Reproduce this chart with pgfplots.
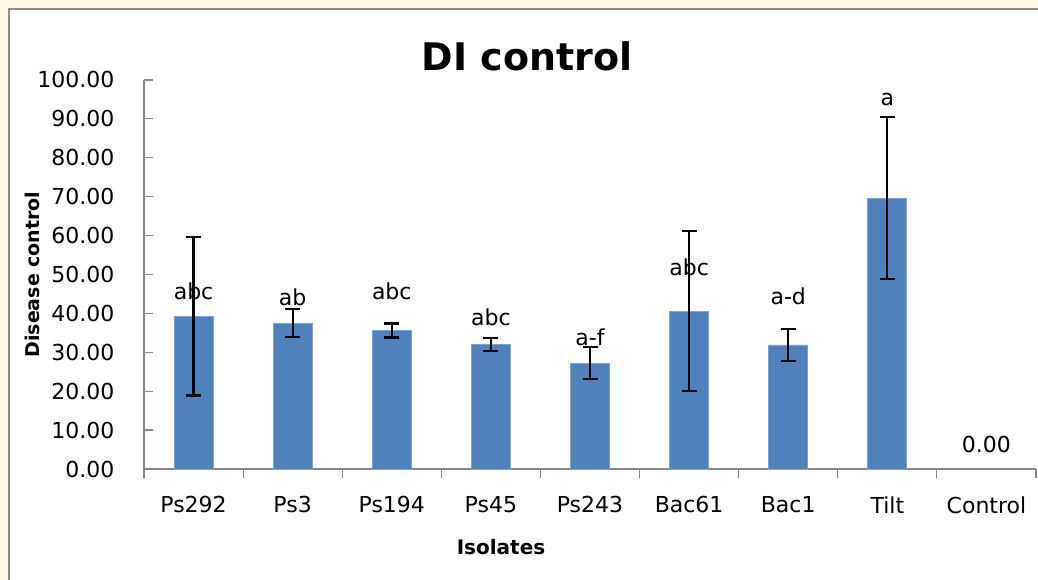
\documentclass[border=0pt]{standalone}
\usepackage{pgfplots}
\pgfplotsset{compat=1.18}
\usepackage{fontspec}
\setmainfont{DejaVu Sans}
\definecolor{barblue}{HTML}{4F81BD}
\definecolor{baredge}{HTML}{7EA3D1}
\definecolor{axgray}{HTML}{868686}
\definecolor{cream}{HTML}{FFF9E3}
\definecolor{framegray}{HTML}{8C8C8C}
\pgfplotstableread{
x y err
0 39.3 20.4
1 37.5 3.6
2 35.6 1.8
3 32.0 1.6
4 27.2 4.1
5 40.6 20.5
6 31.9 4.05
7 69.6 20.8
}\datatable
\begin{document}
\begin{tikzpicture}[x=1pt,y=1pt]
\useasboundingbox (0,0) rectangle (1038,580);
\clip (0,0) rectangle (1038,580);
\fill[cream] (0,0) rectangle (1038,580);
\filldraw[fill=white, draw=framegray, line width=1.5pt] (9,-10) rectangle (1050,571);
\begin{axis}[
  at={(144pt,111pt)}, anchor=south west,
  scale only axis, width=892pt, height=389pt,
  xmin=-0.5, xmax=8.5, ymin=0, ymax=100,
  axis x line=bottom, axis y line=left,
  axis line style={-, draw=axgray, line width=1.2pt},
  xtick={-0.5,0.5,...,8.5},
  x tick label as interval,
  xticklabels={Ps292,Ps3,Ps194,Ps45,Ps243,Bac61,Bac1,Tilt,Control},
  ytick={0,10,...,100},
  tick align=inside,
  major tick length=9pt,
  every tick/.style={draw=axgray, line width=1.2pt},
  x tick style={yshift=-9pt},
  tick label style={font=\fontsize{22pt}{26pt}\selectfont, text=black},
  yticklabel style={/pgf/number format/.cd, fixed, fixed zerofill, precision=2, /tikz/.cd, anchor=east, xshift=-26pt},
  xticklabel style={yshift=-24pt},
  /pgf/number format/assume math mode=true,
  clip=false,
]
\addplot[ybar, bar width=39pt, fill=barblue, draw=baredge, line width=0.8pt,
  error bars/.cd, y dir=both, y explicit,
  error bar style={line width=2.2pt, black, solid},
  error mark options={rotate=90, mark size=7.5pt, line width=2.2pt, black}]
  table[x=x, y=y, y error=err] {\datatable};
\begin{scope}[font=\fontsize{22pt}{26pt}\selectfont]
\node at (axis cs:0,45.6) {abc};
\node at (axis cs:1,44.2) {ab};
\node at (axis cs:2,45.6) {abc};
\node at (axis cs:3,39.0) {abc};
\node at (axis cs:4,33.8) {a-f};
\node at (axis cs:5,51.8) {abc};
\node at (axis cs:6,44.5) {a-d};
\node at (axis cs:7,95.1) {a};
\node at (axis cs:8,6.4) {0.00};
\end{scope}
\end{axis}
\node[anchor=base, font=\fontsize{38pt}{44pt}\selectfont\bfseries] at (527,509) {DI control};
\node[rotate=90, font=\fontsize{19pt}{22pt}\selectfont\bfseries] at (32,305.5) {Disease control};
\node[font=\fontsize{20pt}{24pt}\selectfont\bfseries] at (501,33) {Isolates};
\end{tikzpicture}
\end{document}
